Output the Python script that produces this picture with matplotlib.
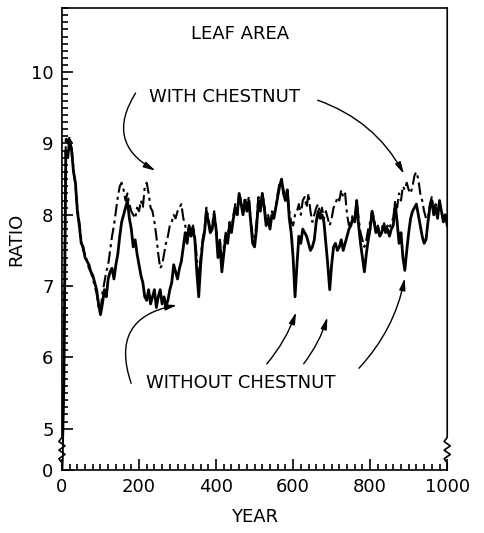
import numpy as np
import matplotlib.pyplot as plt
from matplotlib.ticker import FixedLocator, MultipleLocator

# ratio of leaf area, every 5 years
years = np.arange(0, 1001, 5)

without_chestnut = [
    0, 5.6, 8.9, 8.8, 9.05, 8.9, 8.6, 8.45, 8.05, 7.85,
    7.6, 7.55, 7.4, 7.35, 7.3, 7.2, 7.15, 7.05, 6.95, 6.75,
    6.6, 6.75, 6.95, 6.85, 7.1, 7.2, 7.25, 7.1, 7.3, 7.45,
    7.7, 7.9, 8.0, 8.1, 8.2, 7.95, 7.8, 7.55, 7.65, 7.45,
    7.3, 7.15, 7.05, 6.85, 6.8, 6.95, 6.75, 6.85, 6.95, 6.7,
    6.85, 6.95, 6.75, 6.85, 6.72, 6.8, 6.95, 7.05, 7.3, 7.2,
    7.1, 7.25, 7.35, 7.55, 7.75, 7.6, 7.85, 7.7, 7.8, 7.65,
    7.2, 6.85, 7.3, 7.6, 7.75, 8.05, 7.9, 7.75, 7.8, 8.0,
    7.8, 7.4, 7.6, 7.2, 7.45, 7.7, 7.6, 7.85, 7.75, 7.95,
    8.1, 8.0, 8.3, 8.15, 8.0, 8.2, 8.05, 8.2, 7.9, 7.6,
    7.55, 7.8, 8.2, 8.05, 8.3, 8.1, 7.85, 7.95, 7.8, 8.0,
    7.95, 8.1, 8.25, 8.4, 8.5, 8.3, 8.2, 8.35, 7.95, 7.75,
    7.4, 6.85, 7.3, 7.7, 7.6, 7.8, 7.75, 7.7, 7.6, 7.5,
    7.55, 7.65, 7.9, 8.05, 7.95, 8.0, 7.9, 7.6, 7.3, 6.95,
    7.3, 7.55, 7.6, 7.5, 7.55, 7.65, 7.5, 7.6, 7.7, 7.8,
    7.85, 7.95, 7.9, 8.2, 7.85, 7.6, 7.4, 7.2, 7.45, 7.65,
    7.8, 8.05, 7.9, 7.75, 7.8, 7.7, 7.75, 7.85, 7.75, 7.8,
    7.7, 7.8, 7.85, 8.15, 7.9, 7.6, 7.75, 7.4, 7.22, 7.5,
    7.75, 7.95, 8.05, 8.1, 8.15, 8.0, 7.85, 7.7, 7.6, 7.65,
    7.9, 8.1, 8.2, 8.0, 8.1, 7.95, 8.2, 8.05, 7.9, 8.0,
    7.85,
]

with_chestnut = [
    0, 5.8, 9.1, 9.0, 9.1, 8.95, 8.65, 8.4, 8.1, 7.9,
    7.65, 7.5, 7.45, 7.35, 7.25, 7.2, 7.1, 7.0, 6.9, 6.7,
    6.65, 6.9, 7.05, 7.2, 7.3, 7.5, 7.7, 7.85, 8.05, 8.25,
    8.4, 8.45, 8.35, 8.2, 8.3, 8.15, 8.05, 8.0, 7.95, 8.1,
    8.05, 8.2, 8.1, 8.4, 8.45, 8.3, 8.1, 8.05, 7.9, 7.7,
    7.45, 7.25, 7.3, 7.45, 7.6, 7.7, 7.85, 7.9, 8.0, 7.95,
    8.05, 8.1, 8.15, 7.95, 7.85, 7.7, 7.85, 7.75, 7.85, 7.7,
    7.4, 7.1, 7.4, 7.65, 7.8, 8.1, 7.95, 7.8, 7.85, 8.05,
    7.85, 7.5, 7.65, 7.35, 7.55, 7.75, 7.7, 7.9, 7.8, 8.0,
    8.15, 8.05, 8.3, 8.2, 8.05, 8.25, 8.1, 8.25, 7.95, 7.7,
    7.65, 7.9, 8.25, 8.1, 8.3, 8.15, 7.9, 8.0, 7.85, 8.05,
    8.0, 8.1, 8.3, 8.45, 8.5, 8.35, 8.25, 8.35, 8.05, 7.9,
    7.85, 8.0, 8.05, 8.15, 8.0, 8.2, 8.25, 8.1, 8.3, 8.05,
    7.9, 8.0, 8.1, 8.15, 8.0, 8.1, 7.95, 8.05, 7.95, 7.85,
    7.95, 8.1, 8.15, 8.25, 8.2, 8.35, 8.25, 8.3, 8.0, 7.85,
    7.9, 8.0, 7.95, 8.2, 7.95, 7.75, 7.65, 7.55, 7.65, 7.8,
    7.9, 8.05, 7.95, 7.8, 7.85, 7.75, 7.8, 7.9, 7.8, 7.85,
    7.8, 7.9, 7.95, 8.2, 8.1, 8.3, 8.2, 8.4, 8.35, 8.45,
    8.35, 8.3, 8.4, 8.55, 8.6, 8.5, 8.3, 8.2, 8.05, 7.95,
    7.95, 8.15, 8.25, 8.05, 8.15, 8.0, 8.2, 8.05, 7.95, 8.0,
    7.9,
]

y_ticks = [0, 5, 6, 7, 8, 9, 10]
x_ticks = [0, 200, 400, 600, 800, 1000]

# the y axis is broken between 0 and 5
BREAK_LOW = 4.42


def squash(v):
    v = np.asarray(v, dtype=float)
    return np.where(v >= 5, v, BREAK_LOW + v * (5 - BREAK_LOW) / 5)


plt.rcParams['font.family'] = ['DejaVu Sans']

fig = plt.figure(figsize=(4.84, 5.33), dpi=100)
ax = fig.add_axes([0.128, 0.118, 0.796, 0.867])

ax.plot(years, squash(with_chestnut), color='black', lw=1.5, ls=(0, (6, 2, 1.5, 2)))
ax.plot(years, squash(without_chestnut), color='black', lw=2.0)

ax.set_xlim(0, 1000)
ax.set_ylim(BREAK_LOW, 10.9)

ax.set_xticks(x_ticks)
ax.set_xticklabels([str(t) for t in x_ticks])
ax.xaxis.set_minor_locator(MultipleLocator(20))
ax.set_yticks(squash(y_ticks))
ax.set_yticklabels([str(t) for t in y_ticks])
ax.yaxis.set_minor_locator(FixedLocator(np.arange(5, 10.95, 0.1)))
ax.tick_params(which='both', direction='in', labelsize=13, width=1.2)
ax.tick_params(which='major', length=8, pad=6)
ax.tick_params(which='minor', length=4)

ax.set_xlabel('YEAR', fontsize=13, labelpad=8)
ax.set_ylabel('RATIO', fontsize=13, labelpad=4)

# spines with break marks
ax.spines['left'].set_visible(False)
ax.spines['right'].set_visible(False)
ax.spines['top'].set_linewidth(1.2)
ax.spines['bottom'].set_linewidth(1.2)
trans = ax.get_yaxis_transform()
zx = np.array([0, 0, -0.008, 0.008, -0.008, 0.008, -0.008, 0, 0])
zy = np.array([BREAK_LOW, 4.52, 4.58, 4.64, 4.70, 4.76, 4.82, 4.88, 10.9])
for x0 in (0, 1):
    ax.plot(x0 + zx, zy, color='black', lw=1.2, transform=trans, clip_on=False)

# labels
ax.text(462, 10.54, 'LEAF AREA', fontsize=13, ha='center', va='center')
ax.text(421, 9.65, 'WITH CHESTNUT', fontsize=13, ha='center', va='center')
ax.text(465, 5.64, 'WITHOUT CHESTNUT', fontsize=13, ha='center', va='center')

arrow = dict(arrowstyle='-|>,head_length=0.7,head_width=0.18', color='black', lw=1.0)
ax.annotate('', xy=(249, 8.6), xytext=(195, 9.74),
            arrowprops=dict(arrow, connectionstyle='arc3,rad=0.55'))
ax.annotate('', xy=(891, 8.54), xytext=(657, 9.62),
            arrowprops=dict(arrow, connectionstyle='arc3,rad=-0.2'))
ax.annotate('', xy=(306, 6.74), xytext=(182, 5.6),
            arrowprops=dict(arrow, connectionstyle='arc3,rad=-0.6'))
ax.annotate('', xy=(610, 6.67), xytext=(527, 5.88),
            arrowprops=dict(arrow, connectionstyle='arc3,rad=0.1'))
ax.annotate('', xy=(691, 6.6), xytext=(623, 5.88),
            arrowprops=dict(arrow, connectionstyle='arc3,rad=0.1'))
ax.annotate('', xy=(891, 7.15), xytext=(766, 5.82),
            arrowprops=dict(arrow, connectionstyle='arc3,rad=0.15'))

fig.savefig('out.png', dpi=100)
